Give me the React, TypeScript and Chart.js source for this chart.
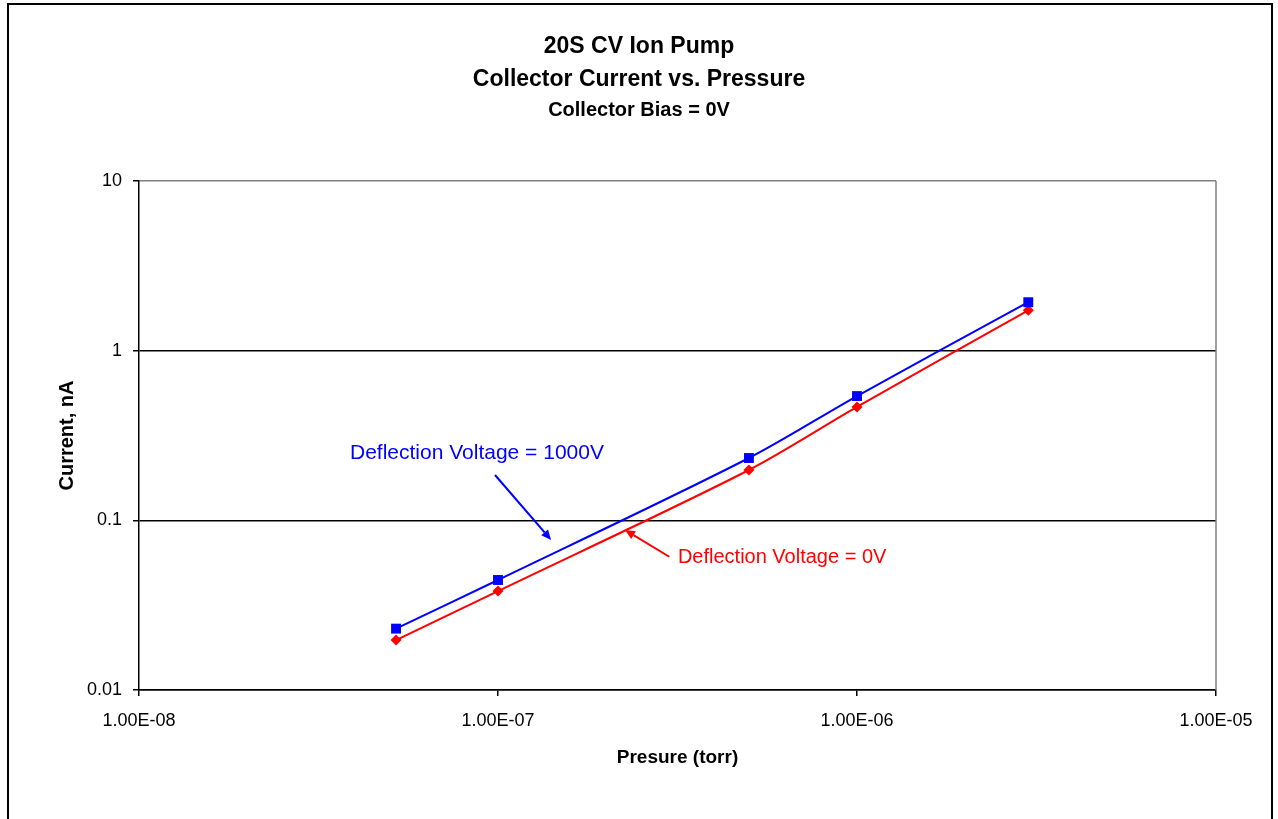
import React, { useEffect, useRef } from "react";
import { Chart, registerables } from "chart.js";

Chart.register(...registerables);

// ---- data ----
const pressureTorr = [5.2e-8, 1e-7, 5e-7, 1e-6, 3e-6];
const currentDefl1000V = [0.023, 0.0445, 0.233, 0.54, 1.93];
const currentDefl0V = [0.0197, 0.0383, 0.198, 0.466, 1.73];

const xTickValues = [1e-8, 1e-7, 1e-6, 1e-5];
const xTickLabels = ["1.00E-08", "1.00E-07", "1.00E-06", "1.00E-05"];
const yTickValues = [0.01, 0.1, 1, 10];
const yTickLabels = ["0.01", "0.1", "1", "10"];

const titleLines = ["20S CV Ion Pump", "Collector Current vs. Pressure"];
const subtitleText = "Collector Bias = 0V";
const xAxisTitle = "Presure (torr)";
const yAxisTitle = "Current, nA";
const label1000V = "Deflection Voltage = 1000V";
const label0V = "Deflection Voltage = 0V";

// annotation anchors in data coordinates
const label1000VAt = { x: 3.87e-8, y: 0.249 };
const arrow1000V = { from: { x: 9.81e-8, y: 0.185 }, to: { x: 1.406e-7, y: 0.0766 } };
const label0VAt = { x: 3.17e-7, y: 0.06 };
const arrow0V = { from: { x: 3.0e-7, y: 0.061 }, to: { x: 2.258e-7, y: 0.0877 } };

const FONT = "'Liberation Sans', Arial, Helvetica, sans-serif";
const BLUE = "#0000FF";
const RED = "#FF0000";

function lookupLabel(values: number[], labels: string[], v: number) {
  for (let i = 0; i < values.length; i++) {
    if (Math.abs(Math.log10(values[i]) - Math.log10(v)) < 1e-6) return labels[i];
  }
  return "";
}

const framePlugin = {
  id: "frameAndAnnotations",
  beforeDraw(chart: any) {
    const { ctx, width, height } = chart;
    ctx.save();
    ctx.fillStyle = "#fff";
    ctx.fillRect(0, 0, width, height);
    ctx.strokeStyle = "#000";
    ctx.lineWidth = 2;
    ctx.beginPath();
    ctx.moveTo(8, height + 5);
    ctx.lineTo(8, 4);
    ctx.lineTo(1272, 4);
    ctx.lineTo(1272, height + 5);
    ctx.stroke();
    ctx.restore();
  },
  afterDatasetsDraw(chart: any) {
    const { ctx, chartArea, scales } = chart;
    const xs = scales.x;
    const ys = scales.y;
    const px = (p: { x: number; y: number }) => ({
      x: xs.getPixelForValue(p.x),
      y: ys.getPixelForValue(p.y),
    });
    ctx.save();
    // right plot border (gray)
    ctx.strokeStyle = "#808080";
    ctx.lineWidth = 1.5;
    ctx.beginPath();
    ctx.moveTo(chartArea.right, chartArea.top);
    ctx.lineTo(chartArea.right, chartArea.bottom);
    ctx.stroke();

    const drawArrow = (a: any, color: string) => {
      const f = px(a.from);
      const t = px(a.to);
      ctx.strokeStyle = color;
      ctx.fillStyle = color;
      ctx.lineWidth = 2;
      const ang = Math.atan2(t.y - f.y, t.x - f.x);
      const L = 10;
      const W = 4.5;
      const bx = t.x - L * Math.cos(ang);
      const by = t.y - L * Math.sin(ang);
      ctx.beginPath();
      ctx.moveTo(f.x, f.y);
      ctx.lineTo(bx, by);
      ctx.stroke();
      ctx.beginPath();
      ctx.moveTo(t.x, t.y);
      ctx.lineTo(bx + W * Math.sin(ang), by - W * Math.cos(ang));
      ctx.lineTo(bx - W * Math.sin(ang), by + W * Math.cos(ang));
      ctx.closePath();
      ctx.fill();
    };
    drawArrow(arrow1000V, BLUE);
    drawArrow(arrow0V, RED);

    ctx.textBaseline = "middle";
    ctx.textAlign = "left";
    ctx.font = `21px ${FONT}`;
    ctx.fillStyle = BLUE;
    const p1 = px(label1000VAt);
    ctx.fillText(label1000V, p1.x, p1.y);
    ctx.font = `20px ${FONT}`;
    ctx.fillStyle = RED;
    const p0 = px(label0VAt);
    ctx.fillText(label0V, p0.x, p0.y);
    ctx.restore();
  },
};

export default function App() {
  const canvasRef = useRef<HTMLCanvasElement | null>(null);

  useEffect(() => {
    const canvas = canvasRef.current;
    if (!canvas) return;
    const chart = new Chart(canvas, {
      type: "line",
      data: {
        datasets: [
          {
            label: label1000V,
            data: pressureTorr.map((p, i) => ({ x: p, y: currentDefl1000V[i] })),
            borderColor: BLUE,
            backgroundColor: BLUE,
            borderWidth: 2,
            pointStyle: "rect",
            pointRadius: 7,
            pointBorderWidth: 0,
            tension: 0.3,
            fill: false,
          },
          {
            label: label0V,
            data: pressureTorr.map((p, i) => ({ x: p, y: currentDefl0V[i] })),
            borderColor: RED,
            backgroundColor: RED,
            borderWidth: 2,
            pointStyle: "rectRot",
            pointRadius: 5.5,
            pointBorderWidth: 0,
            tension: 0.3,
            fill: false,
          },
        ],
      },
      options: {
        responsive: false,
        maintainAspectRatio: false,
        animation: false,
        layout: { padding: { left: 62, right: 62, top: 0, bottom: 0 } },
        plugins: {
          legend: { display: false },
          tooltip: { enabled: false },
          title: {
            display: true,
            text: titleLines,
            color: "#000",
            font: { family: FONT, size: 23, weight: "bold", lineHeight: 33 / 23 },
            padding: { top: 30.5, bottom: 0 },
          },
          subtitle: {
            display: true,
            text: subtitleText,
            color: "#000",
            font: { family: FONT, size: 20, weight: "bold", lineHeight: 1.2 },
            padding: { top: 1.5, bottom: 59 },
          },
        },
        scales: {
          x: {
            type: "logarithmic",
            min: 1e-8,
            max: 1e-5,
            afterBuildTicks: (scale: any) => {
              scale.ticks = xTickValues.map((v) => ({ value: v }));
            },
            afterFit: (scale: any) => {
              scale.height = 129;
            },
            ticks: {
              autoSkip: false,
              maxRotation: 0,
              color: "#000",
              padding: 14,
              font: { family: FONT, size: 18 },
              callback: (v: any) => lookupLabel(xTickValues, xTickLabels, Number(v)),
            },
            grid: {
              drawOnChartArea: false,
              drawTicks: true,
              tickLength: 6,
              color: "#000",
              lineWidth: 1.5,
            },
            border: { display: true, color: "#000", width: 1.5 },
            title: {
              display: true,
              text: xAxisTitle,
              color: "#000",
              font: { family: FONT, size: 19, weight: "bold", lineHeight: 1.2 },
              padding: { top: 0, bottom: 49.6 },
            },
          },
          y: {
            type: "logarithmic",
            min: 0.01,
            max: 10,
            afterBuildTicks: (scale: any) => {
              scale.ticks = yTickValues.map((v) => ({ value: v }));
            },
            afterFit: (scale: any) => {
              scale.width = 77;
            },
            ticks: {
              autoSkip: false,
              color: "#000",
              padding: 11,
              font: { family: FONT, size: 18 },
              callback: (v: any) => lookupLabel(yTickValues, yTickLabels, Number(v)),
            },
            grid: {
              drawOnChartArea: true,
              drawTicks: true,
              tickLength: 6,
              color: (ctx: any) =>
                ctx.tick && Math.abs(ctx.tick.value - 10) < 1e-9 ? "#808080" : "#000",
              tickColor: "#000",
              lineWidth: 1.5,
            },
            border: { display: true, color: "#000", width: 1.5 },
            title: {
              display: true,
              text: yAxisTitle,
              color: "#000",
              font: { family: FONT, size: 20, weight: "bold", lineHeight: 0.3 },
              padding: { top: 2, bottom: 0 },
            },
          },
        },
      },
      plugins: [framePlugin],
    } as any);
    return () => chart.destroy();
  }, []);

  return (
    <canvas
      ref={canvasRef}
      width={1278}
      height={819}
      style={{ position: "absolute", left: 0, top: 0, width: 1278, height: 819 }}
    />
  );
}
